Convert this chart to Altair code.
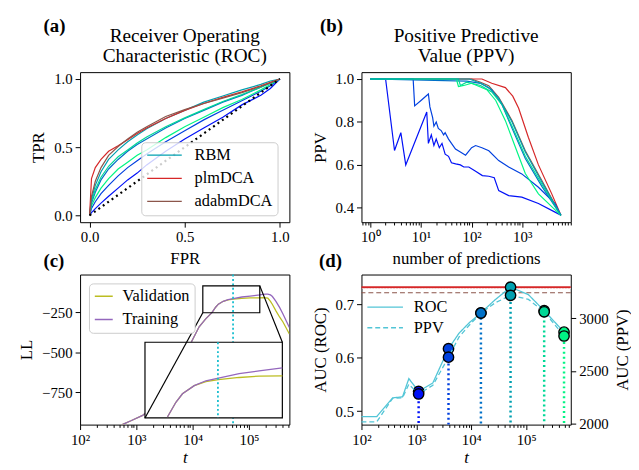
import altair as alt
import pandas as pd
import math

FONT = "Liberation Serif"
W, H = 212, 152

C1, C2, C3, C4, C5, C6 = "#0010f7", "#0040df", "#0070c7", "#00a0b0", "#00d896", "#00f585"
RED, BROWN = "#d62728", "#8c564b"
OLIVE, PURPLE = "#bcbd22", "#9467bd"
CYAN, CYAN_L = "#17becf", "#52c5d6"

# ---------------- (a) ROC ----------------
fpr_grid = [0, 0.01, 0.03, 0.06, 0.1, 0.15, 0.2, 0.25, 0.3, 0.4, 0.5, 0.6, 0.7, 0.8, 0.9, 0.95, 1.0]
tpr_plm = [0, 0.27, 0.35, 0.41, 0.47, 0.51, 0.555, 0.60, 0.64, 0.71, 0.77, 0.82, 0.865, 0.905, 0.95, 0.975, 1.0]
tpr_adabm = [0, 0.14, 0.25, 0.35, 0.44, 0.505, 0.56, 0.61, 0.65, 0.725, 0.775, 0.82, 0.86, 0.90, 0.945, 0.97, 1.0]
tpr_rbm4 = [0, 0.12, 0.22, 0.32, 0.41, 0.48, 0.54, 0.59, 0.635, 0.71, 0.77, 0.83, 0.875, 0.92, 0.96, 0.985, 1.0]
tpr_rbm3 = [0, 0.09, 0.17, 0.26, 0.34, 0.41, 0.47, 0.52, 0.56, 0.64, 0.71, 0.77, 0.83, 0.88, 0.94, 0.97, 1.0]
tpr_rbm5 = [0, 0.10, 0.19, 0.28, 0.36, 0.43, 0.48, 0.53, 0.575, 0.65, 0.715, 0.775, 0.835, 0.885, 0.94, 0.97, 1.0]
tpr_rbm6 = [0, 0.07, 0.13, 0.20, 0.27, 0.34, 0.39, 0.44, 0.48, 0.57, 0.65, 0.72, 0.79, 0.85, 0.92, 0.96, 1.0]
tpr_rbm2 = [0, 0.05, 0.10, 0.16, 0.22, 0.29, 0.35, 0.40, 0.45, 0.54, 0.62, 0.70, 0.77, 0.84, 0.91, 0.95, 1.0]
tpr_rbm1 = [0, 0.02, 0.05, 0.09, 0.14, 0.20, 0.26, 0.31, 0.37, 0.47, 0.56, 0.64, 0.72, 0.81, 0.88, 0.93, 1.0]
diag = [0, 1]

A_KEYS = ["RBM", "plmDCA", "adabmDCA", "RBM_1", "RBM_2", "RBM_3", "RBM_5", "RBM_6"]
A_COLORS = [C4, RED, BROWN, C1, C2, C3, C5, C6]

roc_curves = {"RBM_1": tpr_rbm1, "RBM_2": tpr_rbm2, "RBM_6": tpr_rbm6, "RBM_3": tpr_rbm3,
              "RBM_5": tpr_rbm5, "RBM": tpr_rbm4, "plmDCA": tpr_plm, "adabmDCA": tpr_adabm}

# ---------------- (b) PPV ----------------
n_plm = [1, 160, 250, 465, 650, 850, 1320, 2090, 3830, 5800]
ppv_plm = [1.0, 1.0, 0.98, 0.96, 0.92, 0.864, 0.729, 0.60, 0.465, 0.365]
n_adabm = [1, 100, 150, 218, 343, 630, 1150, 2440, 5800]
ppv_adabm = [1.0, 1.0, 0.985, 0.969, 0.915, 0.806, 0.666, 0.527, 0.365]
n_rbm4 = [1, 90, 150, 218, 343, 630, 1150, 2440, 5800]
ppv_rbm4 = [1.0, 1.0, 0.98, 0.96, 0.91, 0.80, 0.66, 0.52, 0.365]
n_rbm5 = [1, 55, 60, 80, 150, 250, 400, 630, 1150, 2440, 5800]
ppv_rbm5 = [1.0, 1.0, 0.97, 0.985, 0.97, 0.94, 0.88, 0.78, 0.64, 0.51, 0.365]
n_rbm3 = [1, 80, 150, 250, 400, 630, 1150, 2440, 5800]
ppv_rbm3 = [1.0, 0.99, 0.98, 0.95, 0.88, 0.77, 0.63, 0.50, 0.365]
n_rbm6 = [1, 50, 55, 70, 100, 200, 300, 465, 730, 1150, 2090, 5800]
ppv_rbm6 = [1.0, 1.0, 0.965, 0.97, 0.98, 0.95, 0.90, 0.806, 0.683, 0.56, 0.465, 0.365]
n_rbm2 = [1, 7, 7.5, 10, 14, 15, 17, 18, 20, 22, 25, 28, 30, 35, 40, 48, 60, 76, 100, 120, 160, 219, 343, 540, 980, 2090, 4450, 5800]
ppv_rbm2 = [1.0, 1.0, 0.875, 0.90, 0.93, 0.87, 0.82, 0.78, 0.80, 0.77, 0.76, 0.74, 0.75, 0.72, 0.70, 0.674, 0.66, 0.645, 0.68, 0.69, 0.68, 0.666, 0.62, 0.59, 0.558, 0.496, 0.42, 0.365]
n_rbm1 = [1, 2, 3, 4, 5, 13, 14, 16, 18, 20, 23, 26, 30, 35, 40, 48.5, 60, 70, 88, 120, 163, 219, 280, 343, 540, 980, 2090, 4450, 5800]
ppv_rbm1 = [1.0, 1.0, 0.667, 0.75, 0.60, 0.846, 0.70, 0.74, 0.69, 0.72, 0.68, 0.70, 0.65, 0.64, 0.61, 0.605, 0.60, 0.59, 0.59, 0.57, 0.55, 0.547, 0.54, 0.48, 0.457, 0.45, 0.42, 0.38, 0.365]

ppv_curves = {"plmDCA": (n_plm, ppv_plm), "adabmDCA": (n_adabm, ppv_adabm),
              "RBM_1": (n_rbm1, ppv_rbm1), "RBM_2": (n_rbm2, ppv_rbm2), "RBM_3": (n_rbm3, ppv_rbm3),
              "RBM_5": (n_rbm5, ppv_rbm5), "RBM_6": (n_rbm6, ppv_rbm6), "RBM": (n_rbm4, ppv_rbm4)}

# ---------------- (c) LL ----------------
t_ll = [300, 575, 800, 1290, 2000, 3000, 5000, 7000, 9660, 13000, 17000, 22100, 25500, 28500, 34800,
        42400, 52500, 74500, 104500, 155000, 175000, 200000, 215000, 240000, 260000, 300000, 350000, 400000, 520000]
ll_train = [-1100, -952, -930, -896, -840, -770, -640, -530, -429, -340, -290, -250, -217, -198, -180,
            -169, -163, -153, -147, -140, -137, -135, -135, -140, -150, -180, -220, -260, -345]
ll_valid = [-1100, -952, -930, -896, -840, -770, -640, -530, -429, -340, -290, -250, -217, -198, -180,
            -171, -166.7, -161.7, -158.6, -158, -157, -158, -160, -180, -200, -240, -280, -310, -385]
T_BEST = 52000
ZOOM_T = [15100, 155000]
ZOOM_LL = [-252, -83]
BOX_T = [1420, 390000]
BOX_LL = [-912, -437]
C_XDOM = [100, 520000]
C_YDOM = [-954, -12]

# ---------------- (d) AUC ----------------
t_auc = [100, 190, 370, 560, 730, 1100, 2000, 3850, 6000, 9100, 15000, 27600, 52000, 110000, 213000, 490000]
auc_roc = [0.490, 0.490, 0.525, 0.527, 0.561, 0.537, 0.553, 0.617, 0.646, 0.665, 0.684, 0.709, 0.732, 0.718, 0.688, 0.648]
auc_ppv = [2017, 2017, 2240, 2245, 2373, 2281, 2364, 2631, 2823, 2932, 3050, 3149, 3218, 3180, 3062, 2832]
t_ck = [1100, 3850, 15000, 52000, 213000, 490000]
roc_ck = [0.537, 0.617, 0.684, 0.732, 0.688, 0.648]
ppv_ck = [2281, 2631, 3050, 3218, 3062, 2832]
ck_names = ["k1", "k2", "k3", "k4", "k5", "k6"]
ck_colors = [C1, C2, C3, C4, C5, C6]
plm_auc = 0.732
plm_auc_ppv = 0.7295
adabm_auc = 0.7215

LOG_TEST = "abs(log(datum.value)/LN10 - round(log(datum.value)/LN10)) < 0.001"
LOG_LABEL = LOG_TEST + " ? '10' + ['\u2070','\u00b9','\u00b2','\u00b3','\u2074','\u2075','\u2076'][round(log(datum.value)/LN10)] : ''"


def log_ticks(lo, hi):
    out = []
    for e in range(-1, 7):
        for m in range(1, 10):
            v = float(f"{m}e{e}")
            if lo <= v <= hi:
                out.append(v)
    return out


def log_axis(title, lo, hi, italic=False, tpad=6):
    return alt.Axis(title=title, values=log_ticks(lo, hi), labelExpr=LOG_LABEL,
                    tickSize={"condition": {"test": LOG_TEST, "value": 5}, "value": 2.8},
                    titleFontStyle="italic" if italic else "normal", titlePadding=tpad)


def text_at(txt, dx, dy, size=18, bold=False, align="left"):
    return alt.Chart(pd.DataFrame({"lab": [txt]})).mark_text(
        font=FONT, fontSize=size, fontWeight="bold" if bold else "normal", align=align,
        baseline="alphabetic", color="black"
    ).encode(text="lab:N", x=alt.value(dx), y=alt.value(dy))


def title_marks(lines):
    return [text_at(lines[0], W / 2, -31, 19.5, align="center"),
            text_at(lines[1], W / 2, -10, 19.5, align="center")]


# ---- panel (a)
rows = []
for k, tpr in roc_curves.items():
    for f, tv in zip(fpr_grid, tpr):
        rows.append({"series": k, "fpr": f, "tpr": tv})
df_roc = pd.DataFrame(rows)

xa = alt.X("fpr:Q", scale=alt.Scale(domain=[-0.05, 1.05], nice=False, zero=False),
           axis=alt.Axis(title="FPR", values=[0, 0.5, 1], format=".1f"))
ya = alt.Y("tpr:Q", scale=alt.Scale(domain=[-0.05, 1.05], nice=False, zero=False),
           axis=alt.Axis(title="TPR", values=[0, 0.5, 1], format=".1f"))
col_a = alt.Color("series:N", scale=alt.Scale(domain=A_KEYS, range=A_COLORS),
                  legend=alt.Legend(title=None, values=["RBM", "plmDCA", "adabmDCA"], orient="none",
                                    legendX=62, legendY=71, fillColor="rgba(255,255,255,0.8)",
                                    strokeColor="#cccccc", cornerRadius=4, padding=5,
                                    symbolType="stroke", symbolSize=1225, symbolStrokeWidth=1.3,
                                    clipHeight=16, rowPadding=6.5, labelOffset=12))
layers_a = []
for k in roc_curves:
    layers_a.append(alt.Chart(df_roc[df_roc.series == k]).mark_line(strokeWidth=1.2).encode(
        x=xa, y=ya, color=col_a))
layers_a.append(alt.Chart(pd.DataFrame({"fpr": diag, "tpr": diag})).mark_line(
    color="black", strokeDash=[2, 3.5], strokeWidth=2.2).encode(x=xa, y=ya))
layers_a.append(text_at("(a)", -37, -41, 19, bold=True))
layers_a += title_marks(["Receiver Operating", "Characteristic (ROC)"])
pa = alt.layer(*layers_a).properties(width=W, height=H)

# ---- panel (b)
rows = []
for k, (nn, pp) in ppv_curves.items():
    for a, b in zip(nn, pp):
        rows.append({"series": k, "n": a, "ppv": b})
df_ppv = pd.DataFrame(rows)
B_XDOM = [0.667, 9100]
xb = alt.X("n:Q", scale=alt.Scale(type="log", domain=B_XDOM, nice=False),
           axis=log_axis("number of predictions", *B_XDOM))
yb = alt.Y("ppv:Q", scale=alt.Scale(domain=[0.333, 1.032], nice=False, zero=False),
           axis=alt.Axis(title="PPV", values=[0.4, 0.6, 0.8, 1.0], format=".1f"))
col_b = alt.Color("series:N", scale=alt.Scale(domain=A_KEYS, range=A_COLORS), legend=None)
layers_b = []
for k in ppv_curves:
    layers_b.append(alt.Chart(df_ppv[df_ppv.series == k]).mark_line(strokeWidth=1.2).encode(
        x=xb, y=yb, color=col_b))
layers_b.append(text_at("(b)", -42, -41, 19, bold=True))
layers_b += title_marks(["Positive Predictive", "Value (PPV)"])
pb = alt.layer(*layers_b).properties(width=W, height=H)

# ---- panel (c)
def px_x(t):
    return W * (math.log10(t) - math.log10(C_XDOM[0])) / (math.log10(C_XDOM[1]) - math.log10(C_XDOM[0]))


def px_y(v):
    return H * (C_YDOM[1] - v) / (C_YDOM[1] - C_YDOM[0])


df_ll = pd.concat([
    pd.DataFrame({"t": t_ll, "ll": ll_valid, "set": "Validation"}),
    pd.DataFrame({"t": t_ll, "ll": ll_train, "set": "Training"}),
])
xc = alt.X("t:Q", scale=alt.Scale(type="log", domain=C_XDOM, nice=False),
           axis=log_axis("t", *C_XDOM, italic=True, tpad=2))
yc = alt.Y("ll:Q", scale=alt.Scale(domain=C_YDOM, nice=False, zero=False),
           axis=alt.Axis(title="LL", values=[-750, -500, -250], format="d"))
col_c = alt.Color("set:N", scale=alt.Scale(domain=["Validation", "Training"], range=[OLIVE, PURPLE]),
                  legend=alt.Legend(title=None, orient="none", legendX=9, legendY=9, fillColor="white",
                                    strokeColor="#cccccc", cornerRadius=4, padding=5,
                                    symbolType="stroke", symbolSize=330, symbolStrokeWidth=1.5,
                                    clipHeight=16, rowPadding=6.5, labelOffset=9))
main_layers = []
for s in ["Validation", "Training"]:
    main_layers.append(alt.Chart(df_ll[df_ll.set == s]).mark_line(strokeWidth=1.3, clip=True).encode(
        x=xc, y=yc, color=col_c))
main_layers.append(alt.Chart(pd.DataFrame({"t": [T_BEST]})).mark_rule(
    color=CYAN, strokeDash=[2, 2.5], strokeWidth=1.8).encode(x=xc))
zoom_df = pd.DataFrame({"t": [ZOOM_T[0]], "t2": [ZOOM_T[1]], "ll": [ZOOM_LL[0]], "ll2": [ZOOM_LL[1]]})
main_layers.append(alt.Chart(zoom_df).mark_rect(fillOpacity=0, stroke="black", strokeWidth=1.2).encode(
    x=xc, x2="t2:Q", y=yc, y2="ll2:Q"))
box_df = pd.DataFrame({"t": [BOX_T[0]], "t2": [BOX_T[1]], "ll": [BOX_LL[0]], "ll2": [BOX_LL[1]]})
main_layers.append(alt.Chart(box_df).mark_rect(fill="white", stroke="black", strokeWidth=1.2).encode(
    x=xc, x2="t2:Q", y=yc, y2="ll2:Q"))
conn_df = pd.DataFrame({"t": [ZOOM_T[0], ZOOM_T[1]], "t2": [BOX_T[0], BOX_T[1]],
                        "ll": [ZOOM_LL[0], ZOOM_LL[1]], "ll2": [BOX_LL[0], BOX_LL[1]]})
main_layers.append(alt.Chart(conn_df).mark_rule(color="black", strokeWidth=1.2).encode(
    x=xc, x2="t2:Q", y=yc, y2="ll2:Q"))
main_layers.append(text_at("(c)", -37, -8, 19, bold=True))
main_c = alt.layer(*main_layers)

xi = alt.X("t:Q", scale=alt.Scale(type="log", domain=ZOOM_T, nice=False,
                                  range=[px_x(BOX_T[0]), px_x(BOX_T[1])]), axis=None)
yi = alt.Y("ll:Q", scale=alt.Scale(domain=ZOOM_LL, nice=False, zero=False,
                                   range=[px_y(BOX_LL[0]), px_y(BOX_LL[1])]), axis=None)
df_in = df_ll[(df_ll.t >= 22100) & (df_ll.t <= ZOOM_T[1])]
inset_layers = []
for s in ["Validation", "Training"]:
    inset_layers.append(alt.Chart(df_in[df_in.set == s]).mark_line(strokeWidth=1.3).encode(
        x=xi, y=yi, color=col_c))
inset_layers.append(alt.Chart(pd.DataFrame({"t": [T_BEST]})).mark_rule(
    color=CYAN, strokeDash=[2, 2.5], strokeWidth=1.8).encode(
    x=xi, y=alt.value(px_y(BOX_LL[1])), y2=alt.value(px_y(BOX_LL[0]))))
inset_c = alt.layer(*inset_layers)
pc = alt.layer(main_c, inset_c).resolve_scale(x="independent", y="independent").properties(width=W, height=H)

# ---- panel (d)
D_XDOM = [100, 650000]
xd = alt.X("t:Q", scale=alt.Scale(type="log", domain=D_XDOM, nice=False),
           axis=log_axis("t", *D_XDOM, italic=True, tpad=2))
yl = alt.Y("roc:Q", scale=alt.Scale(domain=[0.475, 0.7556], nice=False, zero=False),
           axis=alt.Axis(title="AUC (ROC)", values=[0.5, 0.6, 0.7], format=".1f"))
yr = alt.Y("ppv:Q", scale=alt.Scale(domain=[1990, 3416], nice=False, zero=False),
           axis=alt.Axis(title="AUC (PPV)", values=[2000, 2500, 3000], format="d", orient="right",
                         titleAngle=270, titleBaseline="top"))
dash = alt.StrokeDash("metric:N", scale=alt.Scale(domain=["ROC", "PPV"], range=[[1, 0], [5, 3]]),
                      legend=alt.Legend(title=None, orient="none", legendX=0, legendY=20, padding=5,
                                        symbolType="stroke", symbolSize=1300, symbolStrokeWidth=1.5,
                                        symbolStrokeColor=CYAN_L, clipHeight=16, rowPadding=4,
                                        labelOffset=10))
col_ck = alt.Color("ck:N", scale=alt.Scale(domain=ck_names, range=ck_colors), legend=None)
df_d_roc = pd.DataFrame({"t": t_auc, "roc": auc_roc, "metric": "ROC"})
df_d_ppv = pd.DataFrame({"t": t_auc, "ppv": auc_ppv, "metric": "PPV"})
df_ck = pd.DataFrame({"t": t_ck, "roc": roc_ck, "ppv": ppv_ck, "ck": ck_names})

left_layers = [
    alt.Chart(pd.DataFrame({"roc": [plm_auc]})).mark_rule(color=RED, strokeWidth=2).encode(y=yl),
    alt.Chart(pd.DataFrame({"roc": [plm_auc_ppv]})).mark_rule(color="#f4f4f4", strokeWidth=0.8, strokeDash=[1, 2]).encode(y=yl),
    alt.Chart(pd.DataFrame({"roc": [adabm_auc]})).mark_rule(color=BROWN, strokeWidth=1.2, strokeDash=[5, 3]).encode(y=yl),
    alt.Chart(df_d_roc).mark_line(color=CYAN_L, strokeWidth=1.3).encode(x=xd, y=yl, strokeDash=dash),
    alt.Chart(df_ck).mark_rule(strokeDash=[2, 3], strokeWidth=2.5).encode(x=xd, y=yl, y2=alt.value(H), color=col_ck),
    alt.Chart(df_ck).mark_point(filled=True, size=110, stroke="black", strokeWidth=1.4, opacity=1).encode(
        x=xd, y=yl, color=col_ck),
    text_at("(d)", -43, -8, 19, bold=True),
]
right_layers = [
    alt.Chart(df_d_ppv).mark_line(color=CYAN_L, strokeWidth=1.3).encode(x=xd, y=yr, strokeDash=dash),
    alt.Chart(df_ck).mark_point(filled=True, size=110, stroke="black", strokeWidth=1.4, opacity=1).encode(
        x=xd, y=yr, color=col_ck),
]
pdd = alt.layer(alt.layer(*left_layers), alt.layer(*right_layers)).resolve_scale(y="independent").properties(
    width=W, height=H)

chart = alt.concat(pa, pb, pc, pdd, columns=2, spacing={"row": 53, "column": 73}, bounds="flush").resolve_scale(
    color="independent", strokeDash="independent"
).resolve_legend(color="independent", strokeDash="independent").properties(
    padding={"left": 9, "top": 5, "right": 0, "bottom": 0}
).configure_axis(
    labelFont=FONT, titleFont=FONT, labelFontSize=15, titleFontSize=17, labelColor="black",
    titleColor="black", tickColor="black", tickWidth=1, domain=False, grid=False, tickSize=5,
    labelPadding=3, titlePadding=6, titleFontWeight="normal", labelFlush=False, labelOverlap=False
).configure_view(stroke="black", strokeWidth=1).configure_legend(
    labelFont=FONT, labelFontSize=16.5, labelColor="black"
)

chart.save("out.html", embed_options={"renderer": "svg", "actions": False})
